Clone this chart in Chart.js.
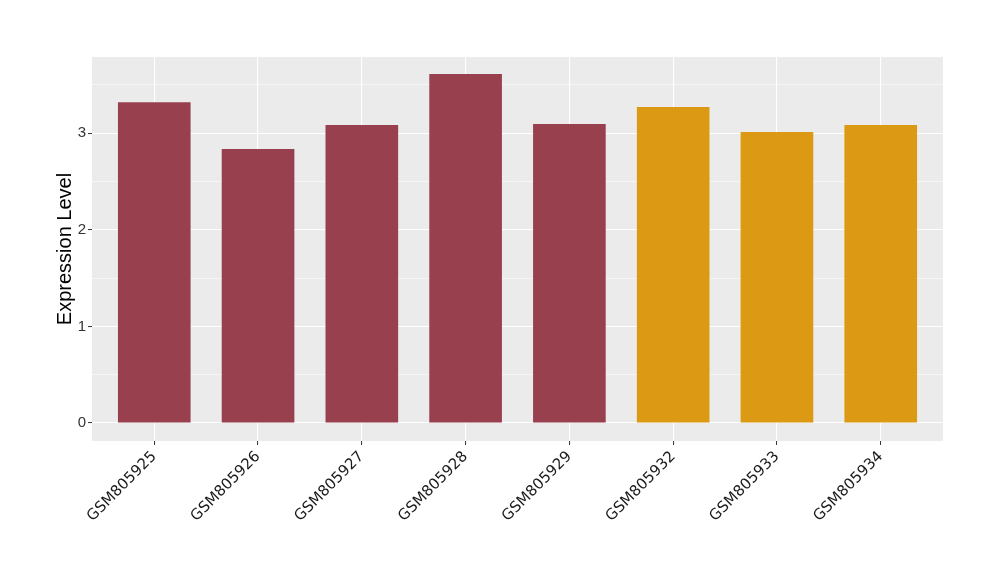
<!DOCTYPE html>
<html>
<head>
<meta charset="utf-8">
<script src="https://cdn.jsdelivr.net/npm/chart.js@4"></script>
<style>
  html, body { margin: 0; padding: 0; background: #fff; }
  #wrap { width: 1000px; height: 580px; }
</style>
</head>
<body>
<div id="wrap"><canvas id="chart" width="1000" height="580"></canvas></div>
<script>
// values
const samples = ['GSM805925', 'GSM805926', 'GSM805927', 'GSM805928', 'GSM805929', 'GSM805932', 'GSM805933', 'GSM805934'];
const expression = [3.32, 2.835, 3.083, 3.61, 3.093, 3.27, 3.01, 3.083];
const groups = ['a', 'a', 'a', 'a', 'a', 'b', 'b', 'b'];
const groupColors = { a: '#99404F', b: '#DC9913' };
const yTicks = [0, 1, 2, 3];

const points = samples.map((s, i) => ({ x: i, y: expression[i] }));

// panel box in the reference picture
const panel = { left: 92, top: 57, right: 943, bottom: 441 };

const ctx = document.getElementById('chart').getContext('2d');
new Chart(ctx, {
  type: 'bar',
  data: {
    datasets: [{
      data: points,
      backgroundColor: groups.map(g => groupColors[g]),
      borderWidth: 0,
      categoryPercentage: 0.7,
      barPercentage: 1.0
    }]
  },
  plugins: [{
    id: 'panelBg',
    beforeDraw(chart) {
      const a = chart.chartArea;
      const c = chart.ctx;
      c.save();
      c.fillStyle = '#EBEBEB';
      c.fillRect(a.left, a.top, a.right - a.left, a.bottom - a.top);
      c.restore();
    }
  }],
  options: {
    responsive: false,
    animation: false,
    layout: { padding: { left: 0, top: panel.top, right: 1000 - panel.right, bottom: 0 } },
    plugins: { legend: { display: false }, tooltip: { enabled: false } },
    scales: {
      x: {
        type: 'linear',
        min: -0.6,
        max: 7.6,
        offset: false,
        afterBuildTicks(scale) {
          scale.ticks = samples.map((s, i) => ({ value: i }));
        },
        afterFit(scale) { scale.height = 580 - panel.bottom; },
        border: { display: false },
        grid: {
          offset: false,
          color: '#FFFFFF',
          lineWidth: 1.1,
          drawTicks: true,
          tickLength: 4,
          tickColor: '#333333',
          tickWidth: 1
        },
        ticks: {
          autoSkip: false,
          minRotation: 45,
          maxRotation: 45,
          padding: 3,
          color: '#1A1A1A',
          font: { family: '"DejaVu Sans"', size: 15 },
          callback: v => samples[v]
        }
      },
      y: {
        min: -0.186,
        max: 3.787,
        afterBuildTicks(scale) {
          const t = [];
          for (let v = 0; v <= 3.5; v += 0.5) t.push({ value: v });
          scale.ticks = t;
        },
        afterFit(scale) { scale.width = panel.left; },
        border: { display: false },
        grid: {
          color: '#FFFFFF',
          lineWidth: c => (yTicks.includes(c.tick.value) ? 1.1 : 0.55),
          tickLength: 4,
          tickColor: c => (yTicks.includes(c.tick.value) ? '#333333' : 'rgba(0,0,0,0)'),
          tickWidth: 1
        },
        ticks: {
          padding: 2,
          color: '#333333',
          font: { family: 'Liberation Sans', size: 15 },
          callback: v => (yTicks.includes(v) ? String(v) : '')
        },
        title: {
          display: true,
          text: 'Expression Level',
          color: '#000000',
          font: { family: 'Liberation Sans', size: 20 },
          padding: { top: 53, bottom: 0 }
        }
      }
    }
  }
});
</script>
</body>
</html>
